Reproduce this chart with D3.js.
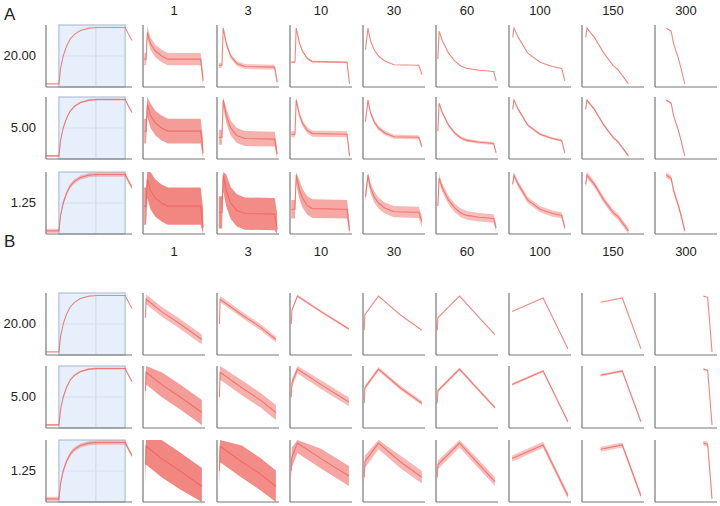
<!DOCTYPE html>
<html><head><meta charset="utf-8">
<script src="https://cdn.jsdelivr.net/npm/d3@7"></script>
<style>body{margin:0;background:#fff}text{font-family:Arial,"Liberation Sans",sans-serif}</style>
</head><body><svg id="c" width="720" height="506"></svg>
<script>
const columns = ["1", "3", "10", "30", "60", "100", "150", "300"];
const rowLabels = ["20.00", "5.00", "1.25"];

// rise curve (first column), [x, y] as panel fractions
const riseCurve = [[0, .05], [.15, .05], [.17, .3], [.2, .5], [.24, .66], [.28, .77], [.33, .85], [.4, .91], [.5, .95], [.6, .96], [.92, .96], [.96, .85], [1, .75]];
const riseSpread = [0.01, 0.015, 0.035];

// A: decay traces per column
const aTraces = [
  [[.02, .45], [.05, .45], [.07, .88], [.12, .7], [.2, .58], [.3, .5], [.4, .45], [.6, .45], [.93, .45], [.97, .1]],
  [[.03, .35], [.08, .35], [.1, .95], [.15, .7], [.22, .5], [.32, .38], [.45, .33], [.93, .32], [.97, .08]],
  [[.02, .4], [.08, .4], [.1, .95], [.15, .72], [.2, .58], [.28, .46], [.36, .41], [.92, .4], [.96, .05]],
  [[.04, .6], [.08, .95], [.12, .75], [.18, .6], [.25, .5], [.35, .42], [.5, .36], [.9, .35], [.95, .2]],
  [[.03, .45], [.05, .9], [.1, .75], [.2, .55], [.3, .42], [.4, .34], [.5, .3], [.7, .27], [.93, .25], [.97, .1]],
  [[.06, .8], [.08, .95], [.15, .8], [.3, .55], [.5, .4], [.7, .33], [.85, .3], [.9, .1]],
  [[.06, .8], [.08, .95], [.2, .8], [.35, .55], [.5, .35], [.58, .28], [.75, .05]],
  [[.18, .95], [.26, .9], [.3, .7], [.38, .45], [.42, .3], [.48, .05]]
];
const aSpread = [
  [.1, .04, .015, .01, .01, .01, .01, .01],
  [.2, .12, .05, .035, .025, .02, .02, .015],
  [.3, .26, .15, .09, .07, .05, .05, .045]
];

// B: linear traces per column
const bTraces = [
  [[.04, .6], [.05, .9], [.3, .7], [.6, .5], [.95, .25]],
  [[.04, .5], [.05, .9], [.4, .65], [.7, .45], [.95, .25]],
  [[.02, .5], [.03, .72], [.12, .95], [.5, .7], [.95, .42]],
  [[.02, .4], [.03, .65], [.25, .95], [.6, .65], [.95, .4]],
  [[.02, .4], [.03, .6], [.38, .95], [.7, .6], [.95, .33]],
  [[.05, .7], [.55, .92], [.95, .1]],
  [[.3, .85], [.65, .92], [.95, .1]],
  [[.78, .95], [.85, .93], [.92, .05]]
];
const bSpread = [
  [.08, .05, .02, .01, .01, .01, .01, .01],
  [.2, .12, .07, .035, .025, .02, .02, .015],
  [.3, .26, .16, .1, .07, .05, .04, .04]
];

const svg = d3.select("#c");
const pw = 62, ph = 62;
const colX = [143, 217, 290, 363, 436, 509, 582, 655];
const blocks = [
  {label: "A", labelY: 20, headY: 15, rowY: [25, 97, 172], traces: aTraces, spread: aSpread},
  {label: "B", labelY: 247, headY: 256, rowY: [293, 366, 440], traces: bTraces, spread: bSpread}
];
const red = "#ee5f58";

function panel(x0, y0, w, h) {
  const g = svg.append("g").attr("transform", `translate(${x0},${y0})`);
  const x = d3.scaleLinear().domain([0, 1]).range([0, w]);
  const y = d3.scaleLinear().domain([0, 1]).range([h, 0]);
  return {g, x, y};
}

function drawAxes(p, w, h) {
  p.g.append("line").attr("x1", 0).attr("x2", 0).attr("y1", 0).attr("y2", h).attr("stroke", "#777").attr("stroke-width", 1.2);
  p.g.append("line").attr("x1", 0).attr("x2", w).attr("y1", h).attr("y2", h).attr("stroke", "#777").attr("stroke-width", 1.2);
}

function drawTrace(p, pts, s) {
  const area = d3.area().x(d => p.x(d[0])).y0(d => p.y(Math.max(0, d[1] - s))).y1(d => p.y(Math.min(1, d[1] + s)));
  if (s > 0.012) {
    p.g.append("path").datum(pts).attr("d", area).attr("fill", red).attr("opacity", Math.min(0.75, 0.3 + s * 1.6));
  }
  p.g.append("path").datum(pts).attr("d", d3.line().x(d => p.x(d[0])).y(d => p.y(d[1])))
    .attr("fill", "none").attr("stroke", red).attr("stroke-width", 1.1).attr("opacity", 0.75);
}

blocks.forEach(b => {
  svg.append("text").attr("x", 4).attr("y", b.labelY).attr("font-size", 17).attr("fill", "#222").text(b.label);
  columns.forEach((c, j) => {
    svg.append("text").attr("x", colX[j] + pw / 2).attr("y", b.headY).attr("text-anchor", "middle")
      .attr("font-size", 13).attr("fill", "#222").text(c);
  });
  rowLabels.forEach((r, i) => {
    const y0 = b.rowY[i];
    svg.append("text").attr("x", 36).attr("y", y0 + ph / 2 + 4).attr("text-anchor", "end")
      .attr("font-size", 13).attr("fill", "#222").text(r);
    // first column: rise curve
    const p0 = panel(46, y0, 86, ph);
    p0.g.append("rect").attr("x", p0.x(.15)).attr("y", 0).attr("width", p0.x(.92) - p0.x(.15)).attr("height", ph)
      .attr("fill", "#e6effa").attr("stroke", "#9fb7d3");
    [.58].forEach(v => p0.g.append("line").attr("x1", p0.x(v)).attr("x2", p0.x(v)).attr("y1", 0).attr("y2", ph).attr("stroke", "#c9d8ea"));
    [.5].forEach(v => p0.g.append("line").attr("x1", p0.x(.15)).attr("x2", p0.x(.92)).attr("y1", p0.y(v)).attr("y2", p0.y(v)).attr("stroke", "#d6e2f0"));
    drawAxes(p0, 86, ph);
    drawTrace(p0, riseCurve, riseSpread[i]);
    columns.forEach((c, j) => {
      const p = panel(colX[j], y0, pw, ph);
      drawAxes(p, pw, ph);
      drawTrace(p, b.traces[j], b.spread[i][j]);
    });
  });
});
</script></body></html>
